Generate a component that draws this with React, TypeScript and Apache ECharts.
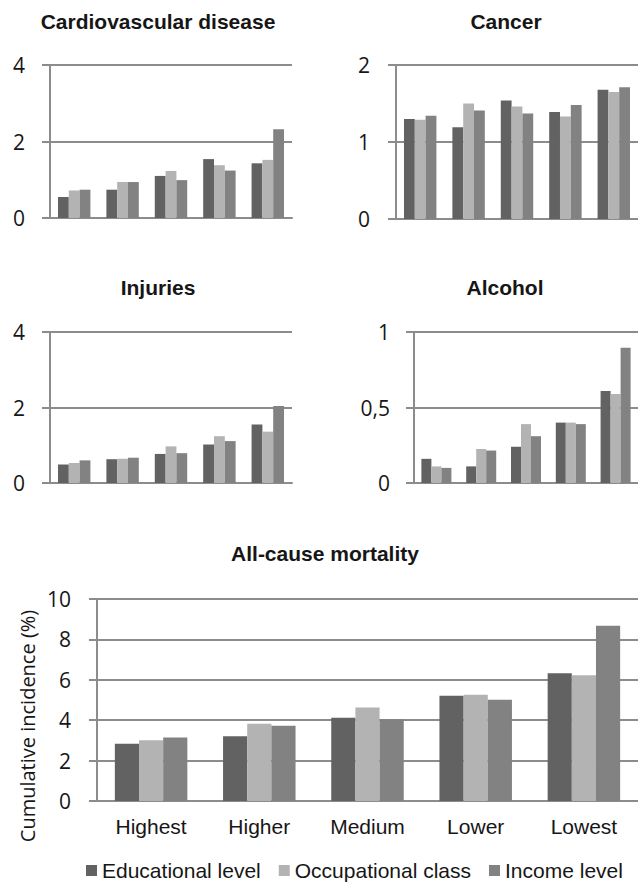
import React, { useEffect, useRef } from "react";
import * as echarts from "echarts";

const categories = ["Highest", "Higher", "Medium", "Lower", "Lowest"];
const seriesNames = ["Educational level", "Occupational class", "Income level"];
const panelTitles = ["Cardiovascular disease", "Cancer", "Injuries", "Alcohol", "All-cause mortality"];
const yAxisName = "Cumulative incidence (%)";

const cvdEdu = [0.55, 0.74, 1.1, 1.54, 1.43];
const cvdOcc = [0.72, 0.94, 1.23, 1.38, 1.52];
const cvdInc = [0.74, 0.94, 0.99, 1.24, 2.32];

const cancerEdu = [1.3, 1.19, 1.54, 1.39, 1.68];
const cancerOcc = [1.29, 1.5, 1.46, 1.33, 1.65];
const cancerInc = [1.34, 1.41, 1.37, 1.48, 1.71];

const injEdu = [0.49, 0.63, 0.77, 1.02, 1.55];
const injOcc = [0.53, 0.64, 0.97, 1.24, 1.36];
const injInc = [0.6, 0.67, 0.79, 1.11, 2.04];

const alcEdu = [0.16, 0.11, 0.24, 0.4, 0.61];
const alcOcc = [0.11, 0.225, 0.39, 0.4, 0.59];
const alcInc = [0.1, 0.215, 0.31, 0.39, 0.895];

const allEdu = [2.84, 3.21, 4.12, 5.21, 6.33];
const allOcc = [3.01, 3.82, 4.63, 5.26, 6.22];
const allInc = [3.14, 3.72, 4.05, 5.01, 8.68];

const yMaxes = [4, 2, 4, 1, 10];
const yIntervals = [2, 1, 2, 0.5, 2];

const panelData = [
  [cvdEdu, cvdOcc, cvdInc],
  [cancerEdu, cancerOcc, cancerInc],
  [injEdu, injOcc, injInc],
  [alcEdu, alcOcc, alcInc],
  [allEdu, allOcc, allInc],
];

const colors = ["#626262", "#b3b3b3", "#828282"];
const lineColor = "#8c8c8c";
const textColor = "#161616";

export default function App() {
  const ref = useRef<HTMLDivElement>(null);

  useEffect(() => {
    document.body.style.margin = "0";
    if (!ref.current) return;
    const chart = echarts.init(ref.current, null, { renderer: "svg" });

    const grids = [
      { left: 50, top: 65, width: 242, height: 153 },
      { left: 396, top: 65, width: 245, height: 154 },
      { left: 50, top: 332, width: 242, height: 151 },
      { left: 414, top: 332, width: 227, height: 151 },
      { left: 97, top: 599, width: 543, height: 202 },
    ];
    const labelMargins = [25, 26, 25, 24, 26];
    const titlePos = [
      [158, 21],
      [506, 21],
      [158, 287],
      [505, 287],
      [325, 553],
    ];

    const xAxes = grids.map((_, i) => ({
      type: "category",
      gridIndex: i,
      data: categories,
      axisLine: { show: true, lineStyle: { color: lineColor, width: 2 } },
      axisTick: { show: false },
      axisLabel: {
        show: i === 4,
        fontSize: 21,
        fontFamily: "Liberation Sans",
        color: textColor,
        margin: 15,
      },
    }));

    const yAxes = grids.map((_, i) => ({
      type: "value",
      gridIndex: i,
      min: 0,
      max: yMaxes[i],
      interval: yIntervals[i],
      axisLine: { show: true, lineStyle: { color: lineColor, width: 2 } },
      axisTick: { show: true, inside: false, length: 8, lineStyle: { color: lineColor, width: 2 } },
      splitLine: { show: true, lineStyle: { color: lineColor, width: 2 } },
      axisLabel: {
        fontSize: 21,
        fontFamily: "Open Sans",
        color: textColor,
        margin: labelMargins[i],
        formatter: (v: number) => String(v).replace(".", ","),
      },
    }));

    const series: any[] = [];
    panelData.forEach((group, i) => {
      group.forEach((vals, j) => {
        series.push({
          type: "bar",
          name: seriesNames[j],
          xAxisIndex: i,
          yAxisIndex: i,
          data: vals,
          barGap: "0%",
          barCategoryGap: "33%",
          itemStyle: { color: colors[j] },
        });
      });
    });

    const graphics: any[] = panelTitles.map((t, i) => ({
      type: "text",
      x: titlePos[i][0],
      y: titlePos[i][1],
      style: {
        text: t,
        fontSize: 21,
        fontWeight: "bold",
        fontFamily: "Liberation Sans",
        fill: textColor,
        textAlign: "center",
        textVerticalAlign: "middle",
      },
    }));
    graphics.push({
      type: "text",
      x: 27,
      y: 726,
      rotation: Math.PI / 2,
      style: {
        text: yAxisName,
        fontSize: 20,
        fontFamily: "Open Sans",
        fill: textColor,
        textAlign: "center",
        textVerticalAlign: "middle",
      },
    });

    chart.setOption({
      animation: false,
      grid: grids,
      xAxis: xAxes,
      yAxis: yAxes,
      series,
      graphic: graphics,
      legend: {
        data: seriesNames,
        left: 86,
        top: 860,
        width: 600,
        padding: 0,
        icon: "rect",
        itemWidth: 11,
        itemHeight: 11,
        itemGap: 18,
        textStyle: { fontSize: 21, fontFamily: "Liberation Sans", color: textColor },
      },
    });

    return () => chart.dispose();
  }, []);

  return <div ref={ref} style={{ width: 638, height: 882 }} />;
}
